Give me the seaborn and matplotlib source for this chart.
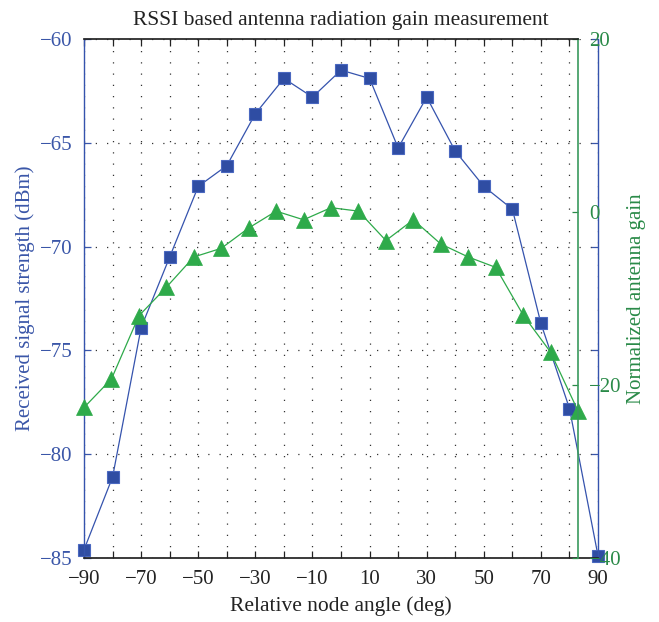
import numpy as np
import pandas as pd
import matplotlib
matplotlib.use("Agg")
import matplotlib.pyplot as plt
import seaborn as sns

# Measurement data
angles = [-90, -80, -70, -60, -50, -40, -30, -20, -10, 0, 10, 20, 30, 40, 50, 60, 70, 80, 90]
rssi_dbm = [-84.6, -81.1, -73.9, -70.5, -67.1, -66.1, -63.6, -61.9, -62.8, -61.5,
            -61.9, -65.25, -62.8, -65.4, -67.1, -68.2, -73.7, -77.8, -84.9]
norm_gain = [-22.6, -19.3, -12.0, -8.7, -5.2, -4.2, -1.85, 0.1, -0.9, 0.5,
             0.1, -3.3, -0.9, -3.7, -5.2, -6.4, -11.9, -16.2, -23.0]

x_tick_labels = [-90, -70, -50, -30, -10, 10, 30, 50, 70, 90]
rssi_ticks = [-85, -80, -75, -70, -65, -60]
gain_ticks = [-40, -20, 0, 20]

df = pd.DataFrame({"angle": angles, "rssi": rssi_dbm, "gain": norm_gain})

sns.set_theme(style="white")
plt.rcParams["font.family"] = ["Liberation Serif", "DejaVu Serif"]
plt.rcParams["axes.unicode_minus"] = True

BLUE = "#2F4DA3"
BLUE_LINE = "#3553AD"
BLUE_TXT = "#3A56A8"
GREEN = "#2EAA4A"
GREEN_AX = "#3A9A5E"
GREEN_TXT = "#2A8A48"


def minus(v):
    return str(v).replace("-", "\u2212")


fig = plt.figure(figsize=(6.59, 6.22), dpi=100)
ax1 = fig.add_axes([0.1275, 0.1029, 0.780, 0.8344])
ax2 = fig.add_axes([0.1275, 0.1029, 0.7496, 0.8344])
ax2.patch.set_alpha(0)

# RSSI curve (left axis)
sns.lineplot(data=df, x="angle", y="rssi", ax=ax1, color=BLUE_LINE, lw=0.9,
             marker="s", markersize=9, markerfacecolor=BLUE,
             markeredgecolor="#4A68C0", markeredgewidth=0.8, clip_on=False)
ax1.set_xlim(-90, 90)
ax1.set_ylim(-85, -60)
ax1.set_xticks(np.arange(-90, 91, 10))
ax1.set_xticklabels([minus(v) if v in x_tick_labels else "" for v in np.arange(-90, 91, 10)])
ax1.set_yticks(rssi_ticks)
ax1.set_yticklabels([minus(v) for v in rssi_ticks])
ax1.grid(True, linestyle=(0, (1, 8)), color="#333333", lw=0.9)
ax1.tick_params(axis="x", direction="in", length=5, top=True, bottom=True,
                labelsize=15, colors="#222222", pad=9, width=0.9)
ax1.tick_params(axis="y", direction="in", length=5, left=True, right=True,
                labelsize=15, colors=BLUE_TXT, pad=8, width=0.9)
for s in ["left", "right"]:
    ax1.spines[s].set_color(BLUE_LINE)
    ax1.spines[s].set_linewidth(1.0)
ax1.spines["bottom"].set_color("#222222")
ax1.spines["top"].set_visible(False)
ax1.set_xlabel("Relative node angle (deg)", fontsize=15.5, color="#222222", labelpad=5)
ax1.set_ylabel("Received signal strength (dBm)", fontsize=15, color=BLUE_TXT, labelpad=4)
ax1.set_title("RSSI based antenna radiation gain measurement", fontsize=15.5,
              color="#222222", pad=10)

# Normalized gain curve (right axis)
sns.lineplot(data=df, x="angle", y="gain", ax=ax2, color=GREEN, lw=0.9,
             marker="^", markersize=11, markerfacecolor=GREEN,
             markeredgecolor=GREEN, markeredgewidth=0.5, clip_on=False)
ax2.set_xlim(-90, 90)
ax2.set_ylim(-40, 20)
ax2.set_xticks([])
ax2.set_xlabel("")
ax2.yaxis.set_label_position("right")
ax2.yaxis.tick_right()
ax2.set_yticks(gain_ticks)
ax2.set_yticklabels([minus(v) for v in gain_ticks])
ax2.tick_params(axis="y", direction="in", length=4, left=False, right=True,
                labelsize=15, colors=GREEN_TXT, pad=8, width=0.9)
ax2.grid(False)
for s in ["left", "bottom"]:
    ax2.spines[s].set_visible(False)
ax2.spines["top"].set_color("#222222")
ax2.spines["right"].set_color(GREEN_AX)
ax2.spines["right"].set_linewidth(1.2)
ax2.set_ylabel("Normalized antenna gain", fontsize=15, color=GREEN_TXT, labelpad=4)

fig.savefig("out.png", dpi=100)
